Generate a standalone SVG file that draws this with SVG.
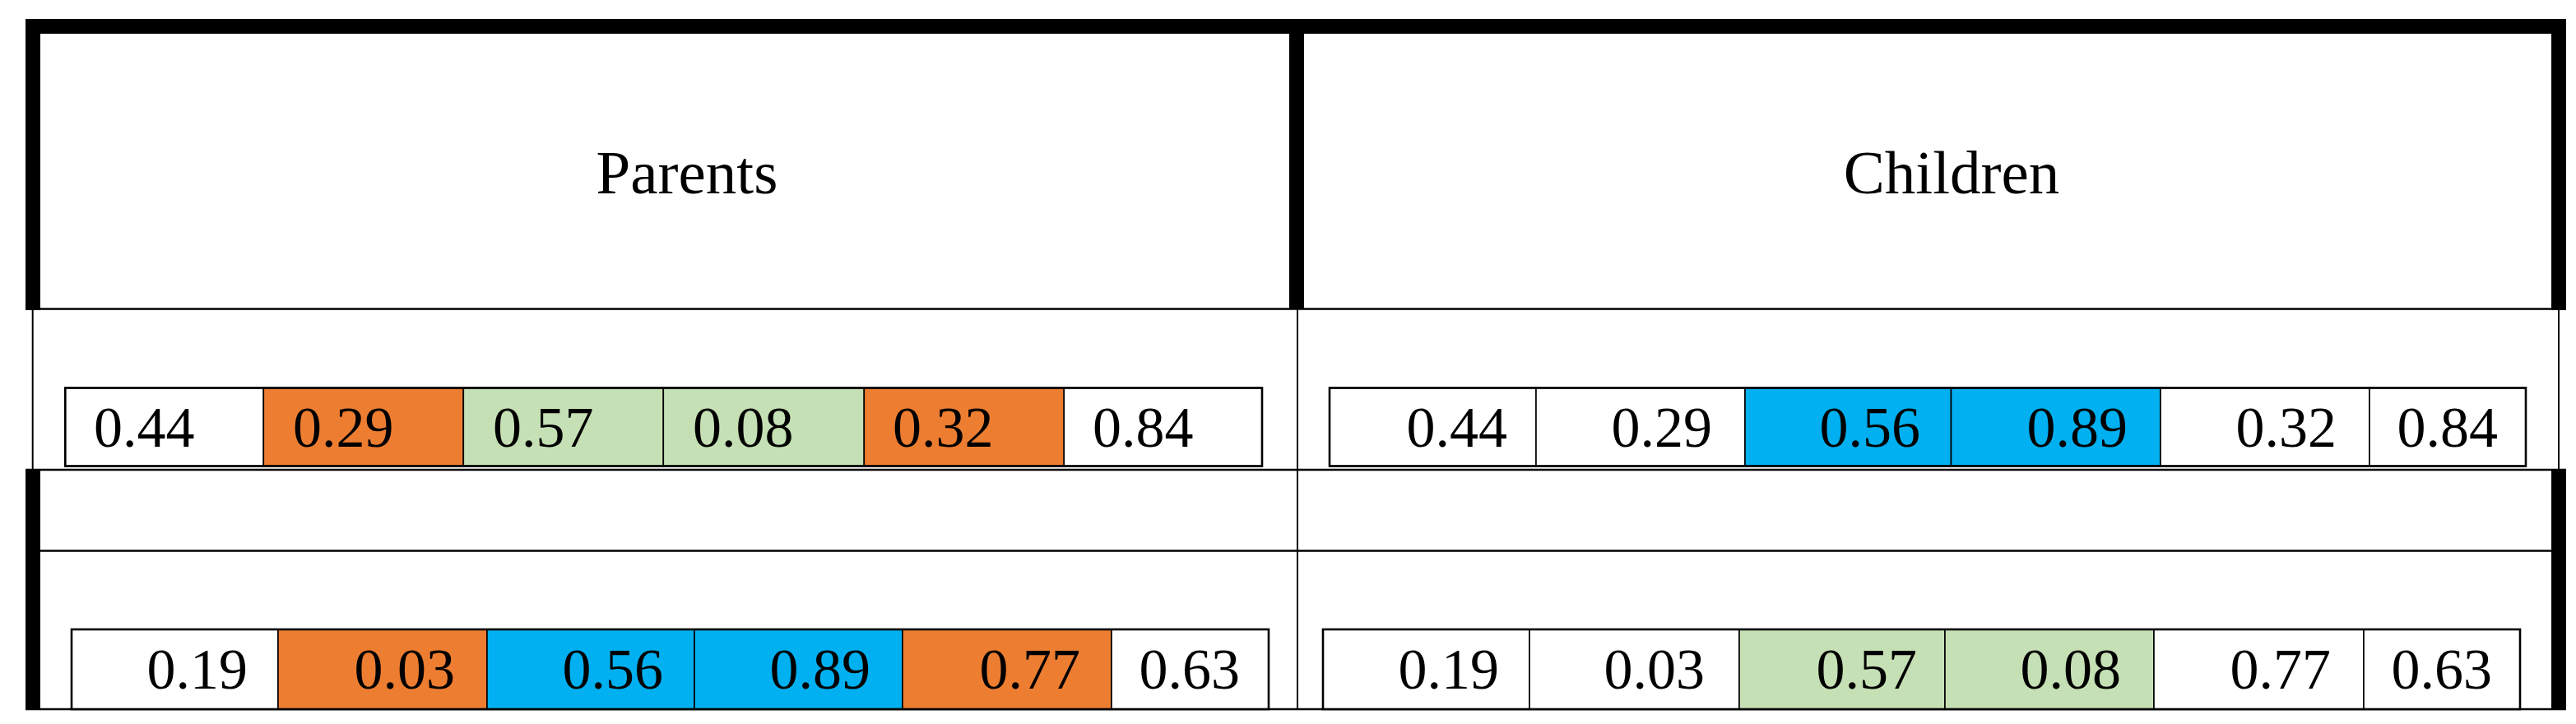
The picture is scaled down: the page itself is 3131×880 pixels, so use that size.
<svg xmlns="http://www.w3.org/2000/svg" width="3131" height="880" viewBox="0 0 3131 880">
<style>
.bg{fill:#ffffff}
.blk{fill:#000000}
.ln{stroke:#000000;stroke-width:2.5;fill:none}
.thin{stroke:#000000;stroke-width:2;fill:none}
.cell{stroke:#000000;stroke-width:1.6}
.outer{stroke:#000000;stroke-width:2.6;fill:none}
.w{fill:#ffffff}
.o{fill:#ED7D31}
.g{fill:#C5E0B4}
.b{fill:#00B0F0}
.hdr{font-family:"Liberation Serif","Times New Roman",serif;font-size:75px;fill:#000000;text-anchor:middle}
.num{font-family:"Liberation Serif","Times New Roman",serif;font-size:70px;fill:#000000}
.l{text-anchor:start}
.r{text-anchor:end}
</style>
<rect class="bg" x="0" y="0" width="3131" height="880"/>

<g id="table-frame">
  <rect class="blk" x="31" y="23" width="3088" height="18"/>
  <rect class="blk" x="31" y="23" width="18" height="354"/>
  <rect class="blk" x="1567" y="23" width="18" height="353"/>
  <rect class="blk" x="3101" y="23" width="18" height="354"/>
  <line class="ln" x1="31" y1="375.5" x2="3119" y2="375.5"/>
  <line class="thin" x1="39.7" y1="376" x2="39.7" y2="571"/>
  <line class="thin" x1="1577" y1="376" x2="1577" y2="863"/>
  <line class="thin" x1="3110" y1="376" x2="3110" y2="571"/>
  <line class="ln" x1="31" y1="571" x2="3119" y2="571"/>
  <rect class="blk" x="31" y="570" width="18" height="293"/>
  <rect class="blk" x="3101" y="570" width="18" height="293"/>
  <line class="ln" x1="31" y1="669.5" x2="3119" y2="669.5"/>
  <line class="ln" x1="31" y1="862" x2="3119" y2="862"/>
</g>

<g id="header-parents">
  <text class="hdr" x="835" y="235">Parents</text>
</g>
<g id="header-children">
  <text class="hdr" x="2372" y="235">Children</text>
</g>

<g id="parents-row1">
  <rect class="cell w" x="79.3" y="471.5" width="241" height="95"/>
  <rect class="cell o" x="320.3" y="471.5" width="243" height="95"/>
  <rect class="cell g" x="563.3" y="471.5" width="243" height="95"/>
  <rect class="cell g" x="806.3" y="471.5" width="244" height="95"/>
  <rect class="cell o" x="1050.3" y="471.5" width="243" height="95"/>
  <rect class="cell w" x="1293.3" y="471.5" width="240.7" height="95"/>
  <rect class="outer" x="79.3" y="471.5" width="1454.7" height="95"/>
  <text class="num l" x="114" y="543">0.44</text>
  <text class="num l" x="356" y="543">0.29</text>
  <text class="num l" x="599" y="543">0.57</text>
  <text class="num l" x="842" y="543">0.08</text>
  <text class="num l" x="1085" y="543">0.32</text>
  <text class="num l" x="1328" y="543">0.84</text>
</g>

<g id="children-row1">
  <rect class="cell w" x="1616" y="471.5" width="251" height="95"/>
  <rect class="cell w" x="1867" y="471.5" width="254" height="95"/>
  <rect class="cell b" x="2121" y="471.5" width="250.5" height="95"/>
  <rect class="cell b" x="2371.5" y="471.5" width="254.5" height="95"/>
  <rect class="cell w" x="2626" y="471.5" width="254" height="95"/>
  <rect class="cell w" x="2880" y="471.5" width="190" height="95"/>
  <rect class="outer" x="1616" y="471.5" width="1454" height="95"/>
  <text class="num r" x="1832" y="543">0.44</text>
  <text class="num r" x="2081" y="543">0.29</text>
  <text class="num r" x="2334" y="543">0.56</text>
  <text class="num r" x="2586" y="543">0.89</text>
  <text class="num r" x="2840" y="543">0.32</text>
  <text class="num r" x="3036" y="543">0.84</text>
</g>

<g id="parents-row2">
  <rect class="cell w" x="87" y="765" width="251" height="97"/>
  <rect class="cell o" x="338" y="765" width="254" height="97"/>
  <rect class="cell b" x="592" y="765" width="252" height="97"/>
  <rect class="cell b" x="844" y="765" width="253" height="97"/>
  <rect class="cell o" x="1097" y="765" width="254" height="97"/>
  <rect class="cell w" x="1351" y="765" width="191" height="97"/>
  <rect class="outer" x="87" y="765" width="1455" height="97"/>
  <text class="num r" x="301" y="837">0.19</text>
  <text class="num r" x="553" y="837">0.03</text>
  <text class="num r" x="806" y="837">0.56</text>
  <text class="num r" x="1058" y="837">0.89</text>
  <text class="num r" x="1313" y="837">0.77</text>
  <text class="num r" x="1507" y="837">0.63</text>
</g>

<g id="children-row2">
  <rect class="cell w" x="1608" y="765" width="251" height="97"/>
  <rect class="cell w" x="1859" y="765" width="255" height="97"/>
  <rect class="cell g" x="2114" y="765" width="250" height="97"/>
  <rect class="cell g" x="2364" y="765" width="254" height="97"/>
  <rect class="cell w" x="2618" y="765" width="255" height="97"/>
  <rect class="cell w" x="2873" y="765" width="190" height="97"/>
  <rect class="outer" x="1608" y="765" width="1455" height="97"/>
  <text class="num r" x="1822" y="837">0.19</text>
  <text class="num r" x="2072" y="837">0.03</text>
  <text class="num r" x="2330" y="837">0.57</text>
  <text class="num r" x="2578" y="837">0.08</text>
  <text class="num r" x="2833" y="837">0.77</text>
  <text class="num r" x="3029" y="837">0.63</text>
</g>
</svg>
